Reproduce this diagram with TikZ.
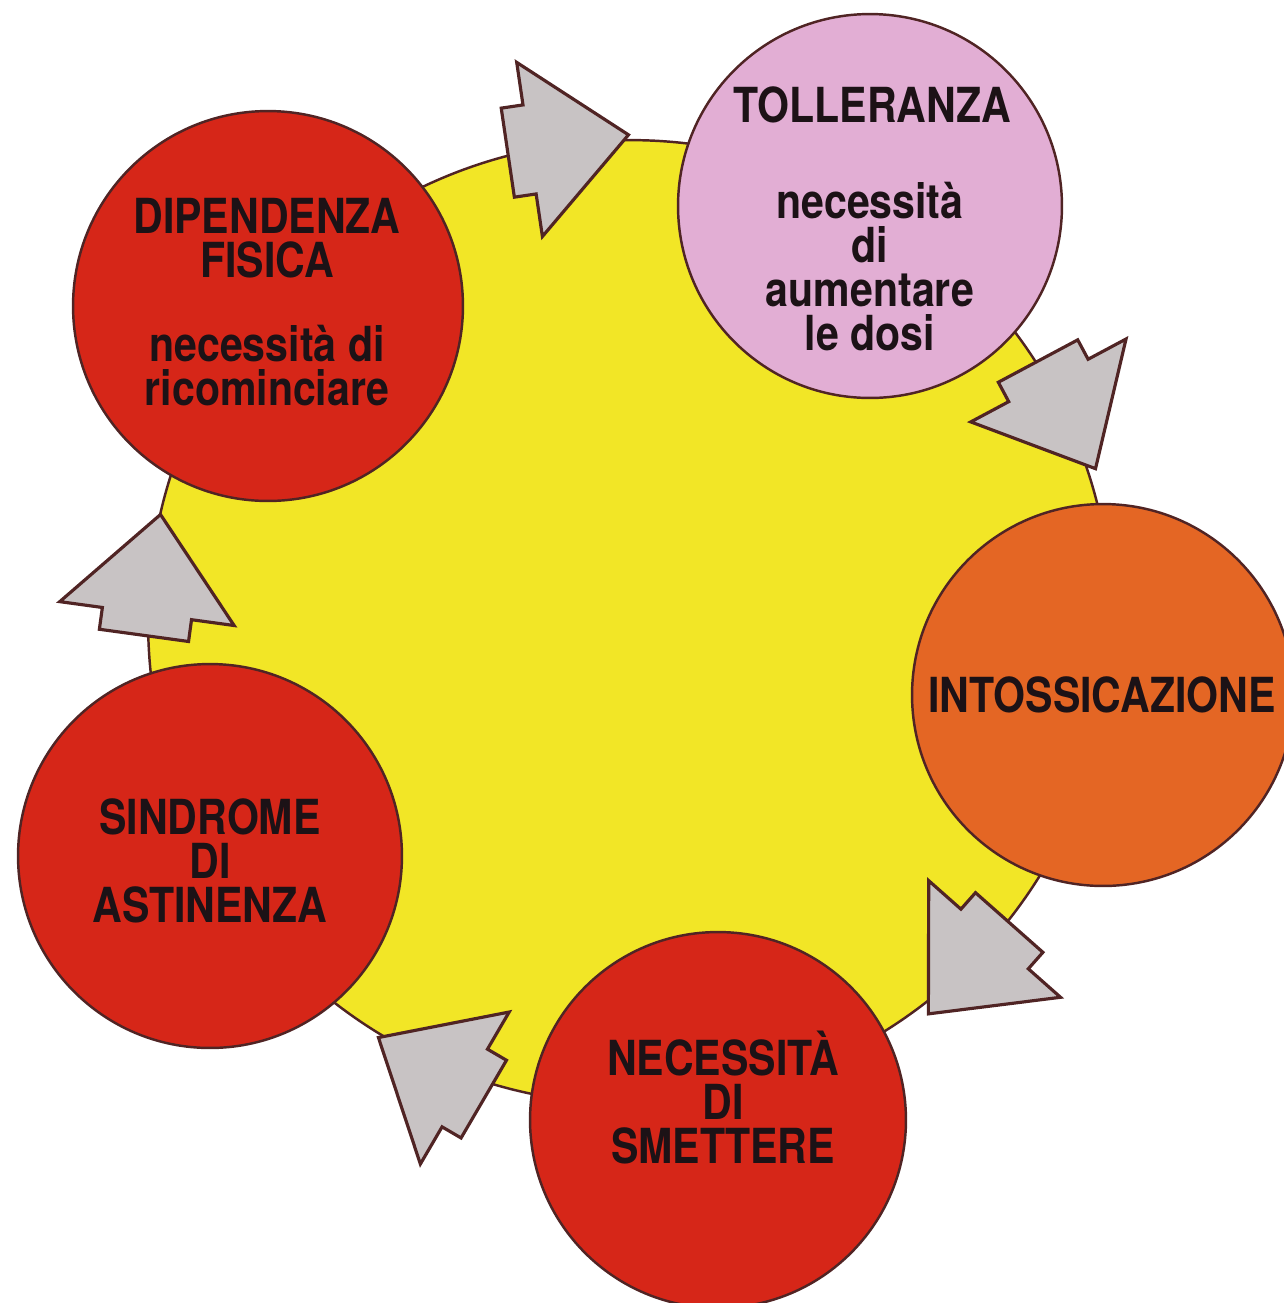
\documentclass[tikz,border=0pt]{standalone}
\usepackage{fontspec}
\newfontfamily\phasefont[FakeStretch=0.85]{TeX Gyre Heros}
\usetikzlibrary{shapes}

\definecolor{sunyellow}{RGB}{242,230,38}
\definecolor{phasered}{RGB}{214,38,24}
\definecolor{phaseorange}{RGB}{228,102,36}
\definecolor{phasepink}{RGB}{226,174,212}
\definecolor{arrowgrey}{RGB}{200,195,196}
\definecolor{rim}{RGB}{80,36,36}
\definecolor{ink}{RGB}{28,18,22}

\tikzset{
  phase/.style={circle, draw=rim, line width=1.4pt, minimum size=7.7cm, inner sep=0pt},
  phasetext/.style={anchor=base, align=center, text=ink, inner sep=0pt,
    font=\phasefont\bfseries\fontsize{27.5}{25}\selectfont},
  arrowbody/.style={draw=rim, fill=arrowgrey, line width=1.8pt, line join=miter},
  cyclearrow/.pic={\draw[arrowbody] (100,0) -- (0,88) -- (0,45) -- (-22,45) -- (-22,-45) -- (0,-45) -- (0,-88) -- cycle;}
}

\begin{document}
\begin{tikzpicture}[x=0.02cm, y=-0.02cm]

\useasboundingbox (0,0) rectangle (1284,1303);

%sfondo
\node [circle, draw=rim, line width=1.4pt, fill=sunyellow, minimum size=19.28cm, inner sep=0pt] (sun) at (630,622) {};

%frecce
\pic [rotate=8.4] at (sun.102.8) {cyclearrow};
\pic [rotate=-61.9] at (sun.30) {cyclearrow};
\pic [rotate=-131.5] at (sun.319.3) {cyclearrow};
\pic [yshift=-0.24cm, rotate=149.7] at (sun.250.4) {cyclearrow};
\pic [rotate=82.2] at (sun.179.6) {cyclearrow};

%cerchi
\node [phase, fill=phasepink, minimum size=7.68cm] (toll) at (870,206) {};
\node [phase, fill=phaseorange, minimum size=7.64cm] (intox) at (1103,695) {};
\node [phase, fill=phasered, minimum size=7.52cm] (smett) at (718,1120) {};
\node [phase, fill=phasered, minimum size=7.68cm] (astin) at (210,856) {};
\node [phase, fill=phasered, minimum size=7.8cm] (dipend) at (268,306) {};

%testi (base = ultima riga)
\node [phasetext] (tollHead) at (872,122) {TOLLERANZA};
\node [phasetext] (tollBody) at (870,350) {necessità\\di\\aumentare\\le dosi};
\node [phasetext] (intoxText) at (1102,712) {INTOSSICAZIONE};
\node [phasetext] (smettText) at (723,1163) {NECESSITÀ\\DI\\SMETTERE};
\node [phasetext] (astinText) at (210,922) {SINDROME\\DI\\ASTINENZA};
\node [phasetext] (dipendHead) at (267,277) {DIPENDENZA\\FISICA};
\node [phasetext] (dipendBody) at (267,405) {necessità di\\ricominciare};

\end{tikzpicture}
\end{document}
